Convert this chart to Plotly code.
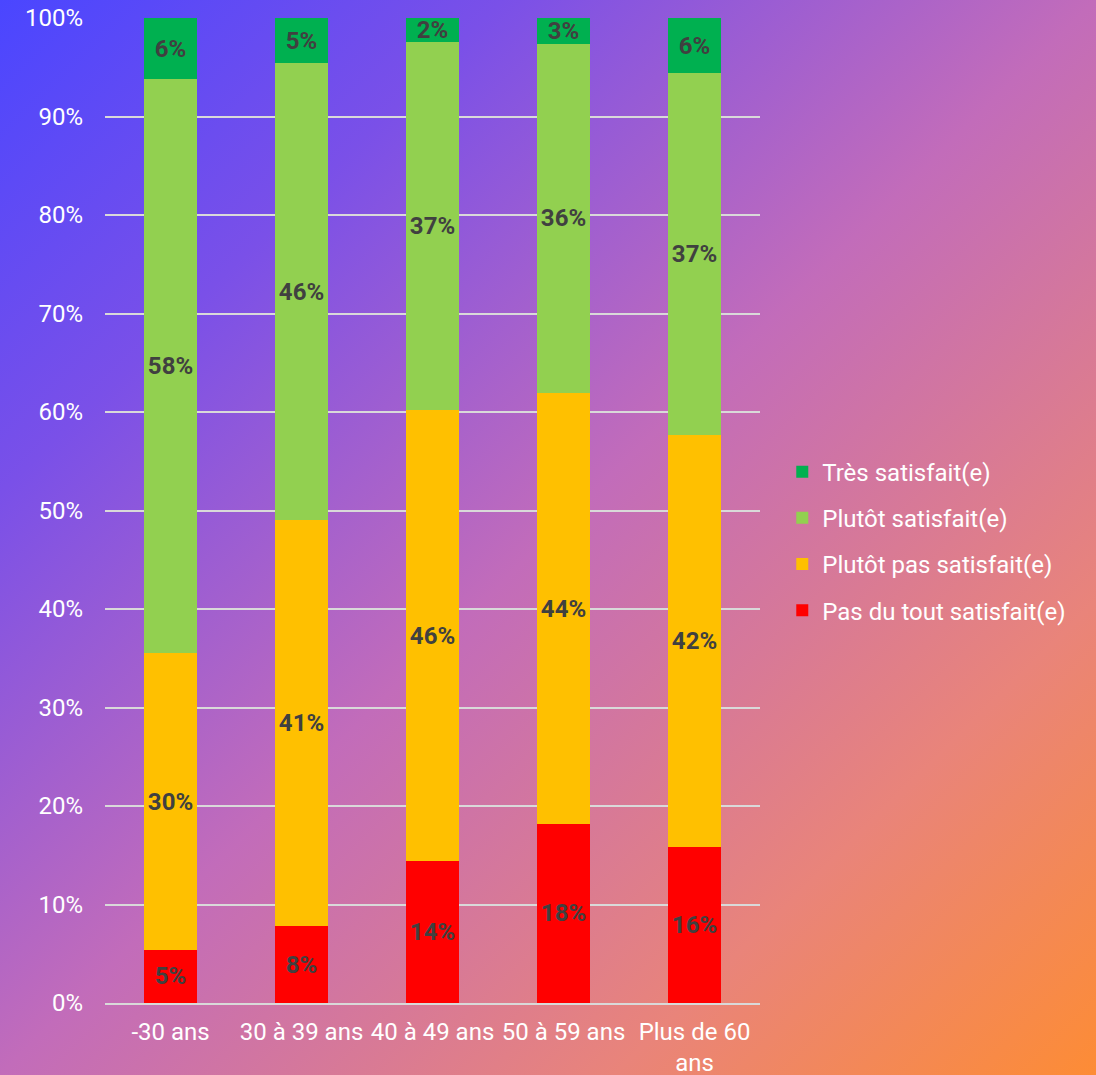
import base64
import plotly.graph_objects as go

categories = ["-30 ans", "30 à 39 ans", "40 à 49 ans", "50 à 59 ans", "Plus de 60<br>ans"]
pas_du_tout = [5.4, 7.8, 14.4, 18.2, 15.8]
plutot_pas = [30.1, 41.2, 45.8, 43.7, 41.9]
plutot = [58.3, 46.4, 37.4, 35.5, 36.7]
tres = [6.2, 4.6, 2.4, 2.6, 5.6]
y_ticks = [0, 10, 20, 30, 40, 50, 60, 70, 80, 90, 100]
y_ticklabels = [f"{v}%" for v in y_ticks]

series = [
    ("Pas du tout satisfait(e)", pas_du_tout, "#FF0000"),
    ("Plutôt pas satisfait(e)", plutot_pas, "#FFC000"),
    ("Plutôt satisfait(e)", plutot, "#92D050"),
    ("Très satisfait(e)", tres, "#00B050"),
]

W, H = 1096, 1075
ML, MR, MT, MB = 105, 336, 18, 72
PW, PH = W - ML - MR, H - MT - MB

svg = f'''<svg xmlns="http://www.w3.org/2000/svg" width="{W}" height="{H}" viewBox="0 0 {W} {H}" preserveAspectRatio="none">
<defs><linearGradient id="g" x1="0" y1="0" x2="1" y2="1">
<stop offset="0" stop-color="#4A46FF"/>
<stop offset="0.23" stop-color="#7A50E8"/>
<stop offset="0.5" stop-color="#C26CBA"/>
<stop offset="0.78" stop-color="#E9847A"/>
<stop offset="1" stop-color="#FD8C35"/>
</linearGradient></defs>
<rect x="0" y="0" width="{W}" height="{H}" fill="url(#g)"/>
</svg>'''
src = "data:image/svg+xml;base64," + base64.b64encode(svg.encode()).decode()

fig = go.Figure()
n = len(series)
for i, (name, vals, color) in enumerate(series):
    fig.add_trace(go.Bar(
        x=categories, y=vals, name=name, legendgroup=f"g{i}",
        legendrank=1000 - i,
        marker=dict(color=color, line=dict(width=0)),
        texttemplate="%{y:.0f}%",
        textposition="inside", insidetextanchor="middle",
        textangle=0,
        textfont=dict(family="Roboto", size=24, color="#404040", weight="bold"),
        constraintext="none",
        hoverinfo="name+y",
    ))

fig.add_layout_image(dict(
    source=src, xref="paper", yref="paper",
    x=-ML / PW, y=1 + MT / PH, sizex=W / PW, sizey=H / PH,
    xanchor="left", yanchor="top", sizing="stretch", layer="below",
))

fig.update_layout(
    width=W, height=H, autosize=False,
    margin=dict(l=ML, r=MR, t=MT, b=MB, autoexpand=False),
    barmode="stack", bargap=0.6,
    paper_bgcolor="rgba(0,0,0,0)", plot_bgcolor="rgba(0,0,0,0)",
    font=dict(family="Roboto", size=24, color="#FFFFFF"),
    legend=dict(
        x=1.034, y=0.469, xanchor="left", yanchor="middle",
        traceorder="grouped", font=dict(size=24, color="#FFFFFF"),
        tracegroupgap=12, bgcolor="rgba(0,0,0,0)",
    ),
    showlegend=True,
)
fig.update_yaxes(
    range=[0, 100], tickvals=y_ticks, ticktext=y_ticklabels,
    showgrid=True, gridcolor="#D9D9D9", gridwidth=2, automargin=False,
    zeroline=False, showline=False, ticks="", ticklabelstandoff=21,
    tickfont=dict(size=24, color="#FFFFFF"),
)
fig.update_xaxes(
    showgrid=False, showline=True, linecolor="#D9D9D9", linewidth=2, automargin=False,
    ticks="", ticklabelstandoff=6, tickfont=dict(size=24, color="#FFFFFF"),
)

fig.write_html(
    "out.html",
    config={"responsive": False, "displayModeBar": False},
    post_script="document.body.style.margin='0';document.body.style.overflow='hidden';",
)
